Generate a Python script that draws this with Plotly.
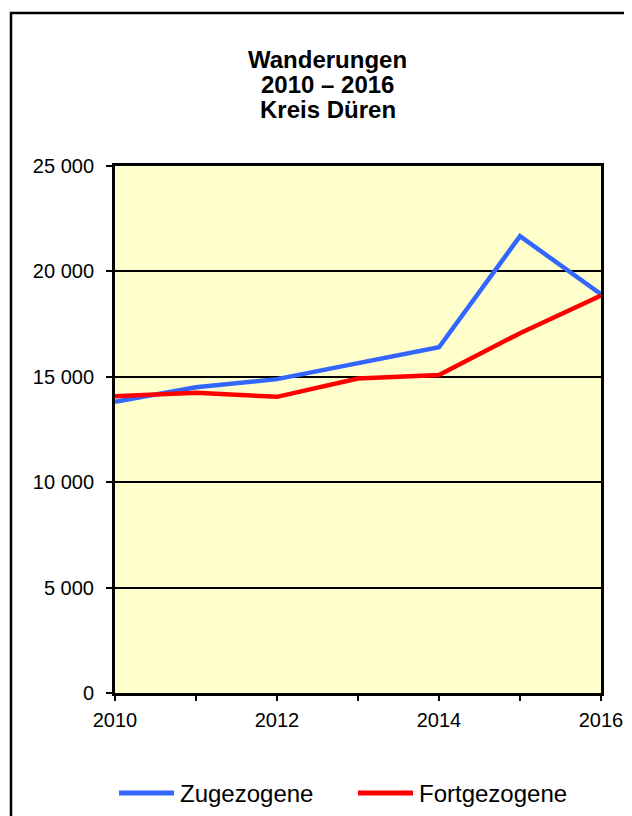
import plotly.graph_objects as go

# Wanderungen Kreis Düren, 2010-2016
years = [2010, 2011, 2012, 2013, 2014, 2015, 2016]
zugezogene = [13810, 14500, 14890, 15640, 16400, 21670, 18920]
fortgezogene = [14080, 14240, 14050, 14920, 15080, 17070, 18850]
series_names = ["Zugezogene", "Fortgezogene"]
series_colors = ["#3366FF", "#FF0000"]
title_lines = ["Wanderungen", "2010 – 2016", "Kreis Düren"]

x_tick_vals = years
x_tick_text = ["2010", "", "2012", "", "2014", "", "2016"]
y_tick_vals = [0, 5000, 10000, 15000, 20000, 25000]
y_tick_text = ["0", "5 000", "10 000", "15 000", "20 000", "25 000"]

# page places the figure 8px in from the top-left corner (body margin)
OFF = 8
W, H = 632, 816
pw, ph = 486, 527
L = 115 - OFF
T = 166 - OFF
R = W - L - pw
B = H - T - ph
FONT = "Liberation Sans, Arial, sans-serif"


def px_x(p):
    return (p - OFF - L) / pw


def px_y(p):
    return (T + ph - (p - OFF)) / ph


fig = go.Figure()
for name, vals, col in zip(series_names, [zugezogene, fortgezogene], series_colors):
    fig.add_trace(go.Scatter(x=years, y=vals, name=name, mode="lines",
                             line=dict(color=col, width=4.5), showlegend=False))

fig.update_layout(
    width=W, height=H,
    margin=dict(l=L, r=R, t=T, b=B),
    paper_bgcolor="white",
    plot_bgcolor="#FFFFCC",
    font=dict(family=FONT, color="black"),
)

fig.update_xaxes(range=[2010, 2016], tickmode="array", tickvals=x_tick_vals,
                 ticktext=x_tick_text, ticks="outside", ticklen=5, tickwidth=2,
                 tickcolor="black", showline=True, linewidth=3, linecolor="black",
                 mirror=True, showgrid=False, zeroline=False,
                 tickfont=dict(size=20), ticklabelstandoff=2)
fig.update_yaxes(range=[0, 25000], tickmode="array", tickvals=y_tick_vals,
                 ticktext=y_tick_text, ticks="outside", ticklen=6, tickwidth=2,
                 tickcolor="black", showline=True, linewidth=3, linecolor="black",
                 mirror=True, showgrid=True, gridcolor="black", gridwidth=2,
                 zeroline=False, tickfont=dict(size=20), ticklabelstandoff=8)

# title, three tight lines
for txt, yc in zip(title_lines, [60, 84, 109]):
    fig.add_annotation(text="<b>" + txt + "</b>", xref="paper", yref="paper",
                       x=px_x(327.5), y=px_y(yc), xanchor="center", yanchor="middle",
                       showarrow=False, font=dict(size=24))

# legend below the plot, long line keys like the original
legend_x = [119, 358]
for name, col, lx in zip(series_names, series_colors, legend_x):
    fig.add_shape(type="line", xref="paper", yref="paper",
                  x0=px_x(lx), x1=px_x(lx + 55), y0=px_y(793), y1=px_y(793),
                  line=dict(color=col, width=5))
    fig.add_annotation(text=name, xref="paper", yref="paper",
                       x=px_x(lx + 59), y=px_y(793), xanchor="left", yanchor="middle",
                       showarrow=False, font=dict(size=24))

# outer chart frame, right and bottom edges run off the page
fig.add_shape(type="rect", xref="paper", yref="paper",
              x0=px_x(11), x1=px_x(660), y0=px_y(850), y1=px_y(13),
              line=dict(color="black", width=2.5), layer="below")

fig.write_html("out.html")
